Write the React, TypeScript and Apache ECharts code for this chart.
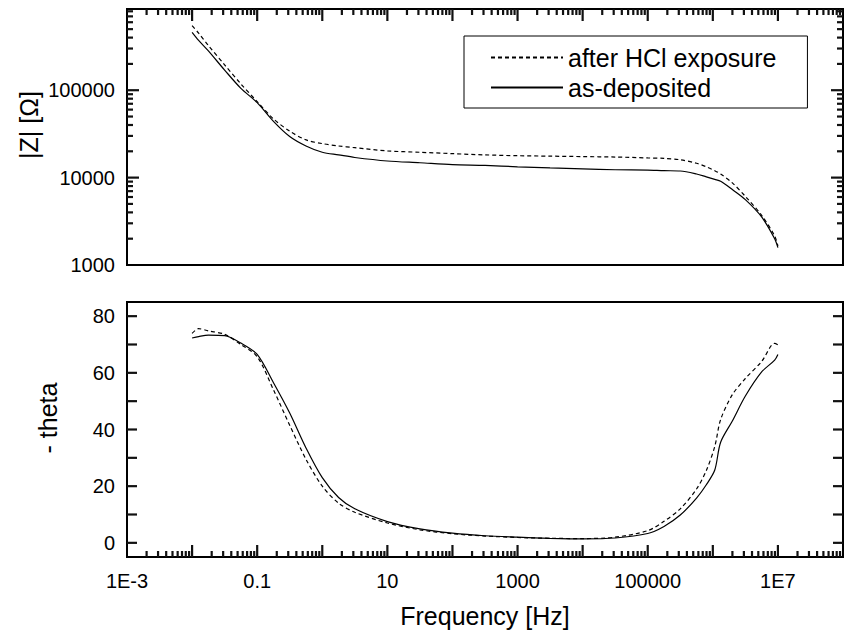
import React, { useEffect, useRef } from "react";
import * as echarts from "echarts";

const freqHz = [0.01, 0.0126, 0.0178, 0.0316, 0.0562, 0.1, 0.178, 0.316, 0.562, 1, 1.78, 3.16, 10, 31.6, 100, 316, 1000, 3162, 10000, 31623, 100000, 177828, 316228, 562341, 794328, 1071519, 1318257, 1995262, 3162278, 5623413, 8912509, 10000000];
const zHcl = [550000, 450000, 325000, 195000, 118000, 74000, 47000, 34000, 27000, 24500, 23000, 22000, 20200, 19500, 18800, 18200, 17800, 17600, 17400, 17200, 16800, 16600, 16000, 14600, 13300, 12000, 11000, 8700, 6100, 3700, 2150, 1650];
const zAsDep = [460000, 372000, 282000, 170000, 105000, 72000, 44000, 29500, 23000, 19500, 18200, 17000, 15500, 14800, 14100, 13800, 13300, 12900, 12600, 12300, 12200, 12000, 11900, 11000, 10200, 9550, 9100, 7300, 5600, 3550, 2000, 1580];
const thetaHcl = [73.9, 75.6, 74.8, 73.6, 70, 65.7, 54, 41.5, 29.5, 20, 14, 10.8, 7.0, 4.6, 3.2, 2.4, 1.9, 1.6, 1.5, 2.0, 4.3, 7.6, 12, 19, 25.5, 34, 43.5, 52.3, 58, 64, 70.4, 69.9];
const thetaAsDep = [72.3, 72.8, 73.3, 73.1, 70.5, 66.5, 56.5, 45.8, 33.5, 23, 16, 12, 7.5, 4.9, 3.4, 2.5, 2.0, 1.6, 1.4, 1.7, 3.3, 5.8, 9.8, 15.8, 20.5, 25.7, 35.5, 43, 51.8, 60.3, 64.5, 66.5];

const seriesNames = ["after HCl exposure", "as-deposited"];
const xTickLabels: Record<number, string> = { [-3]: "1E-3", [-1]: "0.1", 1: "10", 3: "1000", 5: "100000", 7: "1E7" };
const yTopTickLabels: Record<number, string> = { 3: "1000", 4: "10000", 5: "100000" };
const thetaTickLabels = [0, 20, 40, 60, 80];
const thetaTicks = [0, 10, 20, 30, 40, 50, 60, 70, 80];
const xDecadeExps = [-3, -2, -1, 0, 1, 2, 3, 4, 5, 6, 7, 8];
const yTopDecadeExps = [3, 4, 5];
const minorMultipliers = [2, 3, 4, 5, 6, 7, 8, 9];

const X_MIN = 0.001, X_MAX = 1e8;
const ZT_MIN = 1000, ZT_MAX = 850000;
const TH_MIN = -5, TH_MAX = 85;

const FONT = "'Liberation Sans', Arial, Helvetica, sans-serif";

const W = 849;
const G_LEFT = 127, G_RIGHT = 6;
const G0_TOP = 9, G0_H = 256;
const G1_TOP = 302, G1_H = 255;
const MAJOR = 12, MINOR = 6, THETA_TICK = 10, TICK_W = 2.2;

const xTicks: number[][] = [];
xDecadeExps.forEach((e) => {
  const d = Math.pow(10, e);
  if (d > X_MIN && d < X_MAX) xTicks.push([d, MAJOR]);
  minorMultipliers.forEach((m) => {
    const v = m * d;
    if (v > X_MIN && v < X_MAX) xTicks.push([v, MINOR]);
  });
});
const yTopTicks: number[][] = [];
yTopDecadeExps.forEach((e) => {
  const d = Math.pow(10, e);
  if (d > ZT_MIN && d < ZT_MAX) yTopTicks.push([d, MAJOR]);
  minorMultipliers.forEach((m) => {
    const v = m * d;
    if (v > ZT_MIN && v < ZT_MAX) yTopTicks.push([v, MINOR]);
  });
});

function decadeLabel(map: Record<number, string>, v: number) {
  const l = Math.log10(v);
  const r = Math.round(l);
  if (Math.abs(l - r) > 1e-6) return "";
  return map[r] ?? "";
}

export default function App() {
  const ref = useRef<HTMLDivElement>(null);
  useEffect(() => {
    if (!ref.current) return;
    const chart = echarts.init(ref.current, undefined, { renderer: "svg" });
    const lineW = 1.2;
    const dash = [4, 3];
    const noTick = { show: false };

    chart.setOption({
      animation: false,
      backgroundColor: "#fff",
      textStyle: { fontFamily: FONT, color: "#000" },
      grid: [
        { left: G_LEFT, right: G_RIGHT, top: G0_TOP, height: G0_H, show: true, borderColor: "#000", borderWidth: 2, backgroundColor: "transparent" },
        { left: G_LEFT, right: G_RIGHT, top: G1_TOP, height: G1_H, show: true, borderColor: "#000", borderWidth: 2, backgroundColor: "transparent" },
      ],
      legend: {
        data: seriesNames, orient: "vertical", left: 464, top: 36, padding: [9, 31, 8, 26], itemGap: 5, itemWidth: 72, itemHeight: 14,
        borderColor: "#000", borderWidth: 1, backgroundColor: "#fff", selectedMode: false,
        itemStyle: { opacity: 0, borderWidth: 0 },
        textStyle: { fontSize: 25, fontFamily: FONT, color: "#000" },
      },
      xAxis: [
        { type: "log", logBase: 10, gridIndex: 0, position: "top", min: X_MIN, max: X_MAX, interval: 1,
          axisLine: { show: false }, axisTick: noTick, axisLabel: { show: false }, splitLine: { show: false } },
        { type: "log", logBase: 10, gridIndex: 1, position: "bottom", min: X_MIN, max: X_MAX, interval: 1,
          axisLine: { show: false }, axisTick: noTick,
          axisLabel: { show: true, fontSize: 20, fontFamily: FONT, color: "#000", margin: 14, formatter: (v: number) => decadeLabel(xTickLabels, v) },
          splitLine: { show: false },
          name: "Frequency [Hz]", nameLocation: "middle", nameGap: 46,
          nameTextStyle: { fontSize: 25, fontFamily: FONT, color: "#000" } },
      ],
      yAxis: [
        { type: "log", logBase: 10, gridIndex: 0, position: "left", min: ZT_MIN, max: ZT_MAX, interval: 1,
          axisLine: { show: false }, axisTick: noTick,
          axisLabel: { show: true, fontSize: 20, fontFamily: FONT, color: "#000", margin: 12, showMaxLabel: false, formatter: (v: number) => decadeLabel(yTopTickLabels, v) },
          splitLine: { show: false } },
        { type: "value", gridIndex: 1, position: "left", min: TH_MIN, max: TH_MAX, splitNumber: 9,
          axisLine: { show: false }, axisTick: noTick,
          axisLabel: { show: true, fontSize: 20, fontFamily: FONT, color: "#000", margin: 12, showMinLabel: false, showMaxLabel: false, formatter: (v: number) => (thetaTickLabels.indexOf(v) >= 0 ? String(v) : "") },
          splitLine: { show: false } },
      ],
      series: [
        { name: seriesNames[0], type: "line", xAxisIndex: 0, yAxisIndex: 0, symbol: "none", smooth: 0.3,
          lineStyle: { color: "#000", width: lineW, type: dash }, itemStyle: { color: "#000" }, data: freqHz.map((f, i) => [f, zHcl[i]]), z: 3 },
        { name: seriesNames[1], type: "line", xAxisIndex: 0, yAxisIndex: 0, symbol: "none", smooth: 0.3,
          lineStyle: { color: "#000", width: lineW, type: "solid" }, itemStyle: { color: "#000" }, data: freqHz.map((f, i) => [f, zAsDep[i]]), z: 3 },
        { name: seriesNames[0], type: "line", xAxisIndex: 1, yAxisIndex: 1, symbol: "none", smooth: 0.3,
          lineStyle: { color: "#000", width: lineW, type: dash }, itemStyle: { color: "#000" }, data: freqHz.map((f, i) => [f, thetaHcl[i]]), z: 3 },
        { name: seriesNames[1], type: "line", xAxisIndex: 1, yAxisIndex: 1, symbol: "none", smooth: 0.3,
          lineStyle: { color: "#000", width: lineW, type: "solid" }, itemStyle: { color: "#000" }, data: freqHz.map((f, i) => [f, thetaAsDep[i]]), z: 3 },
      ],
    });

    // Tick marks placed through the library's own scales (convertToPixel)
    const g0Top = G0_TOP;
    const g1Bot = G1_TOP + G1_H;
    const gL = G_LEFT, gR = W - G_RIGHT;
    const els: any[] = [];
    const mk = (x1: number, y1: number, x2: number, y2: number) =>
      ({ type: "line", z: 100, silent: true, shape: { x1, y1, x2, y2 }, style: { stroke: "#111", lineWidth: TICK_W } });
    xTicks.forEach(([v, len]) => {
      const p0 = chart.convertToPixel({ xAxisIndex: 0 }, v) as number;
      const p1 = chart.convertToPixel({ xAxisIndex: 1 }, v) as number;
      els.push(mk(p0, g0Top, p0, g0Top + len));
      els.push(mk(p1, g1Bot, p1, g1Bot - len));
    });
    yTopTicks.forEach(([v, len]) => {
      const py = chart.convertToPixel({ yAxisIndex: 0 }, v) as number;
      els.push(mk(gL, py, gL + len, py));
      els.push(mk(gR, py, gR - len, py));
    });
    thetaTicks.forEach((v) => {
      const py = chart.convertToPixel({ yAxisIndex: 1 }, v) as number;
      els.push(mk(gL, py, gL + THETA_TICK, py));
      els.push(mk(gR, py, gR - THETA_TICK, py));
    });
    els.push({ type: "text", z: 100, x: 29, y: 125, rotation: Math.PI / 2, style: { text: "|Z| [Ω]", font: `25px ${FONT}`, fill: "#000", textAlign: "center", textVerticalAlign: "middle" } });
    els.push({ type: "text", z: 100, x: 48, y: 418, rotation: Math.PI / 2, style: { text: "- theta", font: `25px ${FONT}`, fill: "#000", textAlign: "center", textVerticalAlign: "middle" } });
    chart.setOption({ graphic: els });

    return () => chart.dispose();
  }, []);
  return <div ref={ref} style={{ position: "fixed", left: 0, top: 0, width: 849, height: 633, background: "#fff" }} />;
}
